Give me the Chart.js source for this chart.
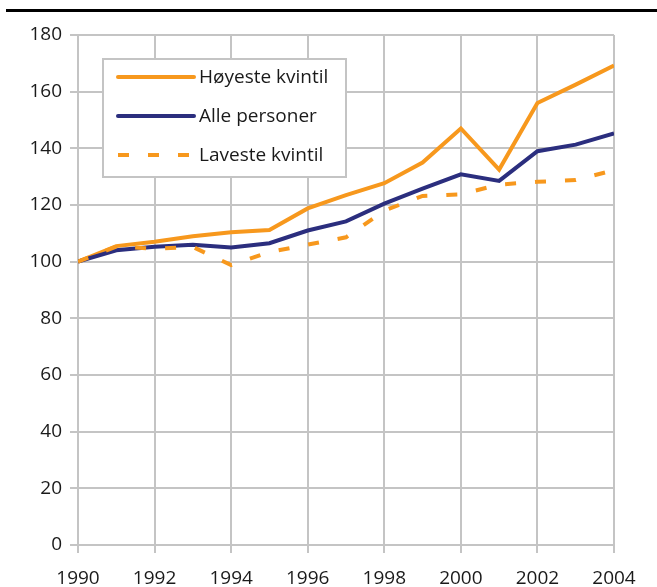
<!DOCTYPE html>
<html>
<head>
<meta charset="utf-8">
<script src="https://cdn.jsdelivr.net/npm/chart.js@4"></script>
<style>
  html, body { margin: 0; padding: 0; background: #fff; }
  #wrap { position: relative; width: 657px; height: 587px; }
  #topline { position: absolute; left: 6px; top: 9px; width: 651px; height: 3px; background: #000; }
  canvas { position: absolute; left: 0; top: 0; }
</style>
</head>
<body>
<div id="wrap">
  <canvas id="incomeChart" width="657" height="587"></canvas>
  <div id="topline"></div>
</div>
<script>
// Indeks, 1990 = 100
const years = [1990, 1991, 1992, 1993, 1994, 1995, 1996, 1997, 1998, 1999, 2000, 2001, 2002, 2003, 2004];
const hoyeste = [100, 105.5, 107, 109, 110.4, 111.2, 118.8, 123.5, 127.7, 135, 147, 132.5, 156, 162.5, 169.2];
const alle = [100, 104, 105.3, 106, 105, 106.5, 111, 114.2, 120.5, 125.8, 130.8, 128.5, 139, 141.3, 145.3];
const laveste = [100, 105.3, 104.6, 105.2, 98.8, 103.4, 106, 108.6, 118, 123.2, 123.8, 127.2, 128.2, 128.8, 132.3];
const yTicks = [0, 20, 40, 60, 80, 100, 120, 140, 160, 180];

const ORANGE = '#F7981D';
const NAVY = '#2B2E7E';
const GRID = '#C4C4C4';

Chart.defaults.font.family = "'Open Sans', 'DejaVu Sans', sans-serif";
Chart.defaults.font.size = 19;
Chart.defaults.color = '#1a1a1a';

const toPoints = vals => vals.map((v, i) => ({ x: years[i], y: v }));

// legend box drawn inside the plot, like the original
const boxLegend = {
    id: 'boxLegend',
    afterDraw(chart) {
        const { ctx, chartArea } = chart;
        const left = chartArea.left + 25;
        const top = chartArea.top + 24;
        const w = 243, h = 118;
        ctx.save();
        ctx.fillStyle = '#fff';
        ctx.fillRect(left, top, w, h);
        ctx.strokeStyle = GRID;
        ctx.lineWidth = 2;
        ctx.strokeRect(left, top, w, h);
        ctx.font = "19px 'Open Sans', 'DejaVu Sans', sans-serif";
        ctx.textBaseline = 'middle';
        chart.data.datasets.forEach((ds, i) => {
            const y = top + 18 + i * 39;
            ctx.beginPath();
            ctx.strokeStyle = ds.borderColor;
            ctx.lineWidth = ds.borderWidth;
            ctx.setLineDash(ds.borderDash || []);
            ctx.lineCap = ds.borderDash ? 'butt' : 'round';
            ctx.moveTo(left + 15, y);
            ctx.lineTo(left + 91, y);
            ctx.stroke();
            ctx.setLineDash([]);
            ctx.fillStyle = '#1a1a1a';
            ctx.fillText(ds.label, left + 96, y + 1);
        });
        ctx.restore();
    }
};

new Chart(document.getElementById('incomeChart'), {
    type: 'line',
    data: {
        datasets: [
            { label: 'Høyeste kvintil', data: toPoints(hoyeste), borderColor: ORANGE, borderWidth: 4, pointRadius: 0, tension: 0, order: 2 },
            { label: 'Alle personer', data: toPoints(alle), borderColor: NAVY, borderWidth: 4, pointRadius: 0, tension: 0, order: 1 },
            { label: 'Laveste kvintil', data: toPoints(laveste), borderColor: ORANGE, borderWidth: 4, borderDash: [11, 19], pointRadius: 0, tension: 0, order: 0 }
        ]
    },
    options: {
        responsive: false,
        animation: false,
        devicePixelRatio: 1,
        layout: { padding: { top: 35, right: 43, left: 0, bottom: 0 } },
        plugins: { legend: { display: false }, tooltip: { enabled: false } },
        scales: {
            x: {
                type: 'linear',
                min: years[0],
                max: years[years.length - 1],
                afterFit: s => { s.height = 42; },
                border: { color: GRID, width: 2 },
                grid: { color: GRID, lineWidth: 2, tickLength: 8 },
                ticks: { stepSize: 2, padding: 14, callback: v => String(v) }
            },
            y: {
                min: 0,
                max: 180,
                afterFit: s => { s.width = 78; },
                afterBuildTicks: s => { s.ticks = yTicks.map(v => ({ value: v })); },
                border: { color: GRID, width: 2 },
                grid: { color: GRID, lineWidth: 2, tickLength: 8 },
                ticks: { padding: 8 }
            }
        }
    },
    plugins: [boxLegend]
});
</script>
</body>
</html>
